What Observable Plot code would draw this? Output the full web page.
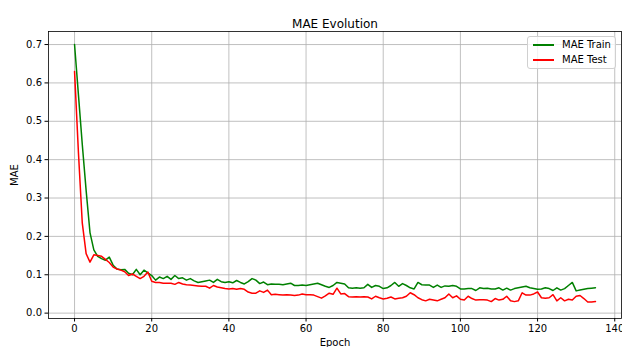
<!DOCTYPE html>
<html><head><meta charset="utf-8">
<script src="https://cdn.jsdelivr.net/npm/d3@7"></script>
<script src="https://cdn.jsdelivr.net/npm/@observablehq/plot@0.6"></script>
<style>
body{margin:0;background:#fff;}
#wrap{position:relative;width:622px;height:347px;font-family:"DejaVu Sans",sans-serif;overflow:hidden;}
#legend{position:absolute;left:527px;top:36px;width:89px;height:33px;border:1px solid #d0d0d0;border-radius:3px;background:rgba(255,255,255,0.8);font-size:10px;color:#000;box-sizing:border-box;}
.row{position:absolute;left:0;height:12px;line-height:12px;}
.sw{position:absolute;left:5px;top:5px;width:21px;height:2px;}
.lb{position:absolute;left:34px;top:0;white-space:nowrap;}
</style>
</head><body>
<div id="wrap"><div id="legend"></div></div>
<script>
const epochs = d3.range(136);
const maeTrain = [
0.700,0.570,0.440,0.320,0.210,0.165,0.148,0.142,0.138,0.146,
0.125,0.115,0.113,0.114,0.104,0.100,0.114,0.100,0.112,0.105,
0.098,0.086,0.094,0.090,0.096,0.088,0.098,0.090,0.092,0.086,
0.090,0.084,0.080,0.082,0.084,0.086,0.080,0.088,0.082,0.080,
0.082,0.079,0.085,0.080,0.076,0.082,0.090,0.086,0.077,0.081,
0.074,0.076,0.075,0.075,0.074,0.076,0.078,0.072,0.072,0.073,
0.072,0.074,0.076,0.078,0.074,0.070,0.067,0.072,0.080,0.078,
0.076,0.066,0.065,0.066,0.065,0.066,0.075,0.067,0.072,0.070,
0.064,0.066,0.072,0.080,0.070,0.077,0.072,0.066,0.063,0.080,
0.074,0.073,0.073,0.067,0.073,0.067,0.071,0.070,0.072,0.070,
0.063,0.063,0.064,0.064,0.059,0.066,0.064,0.065,0.063,0.063,
0.066,0.060,0.065,0.060,0.064,0.066,0.068,0.070,0.066,0.064,
0.062,0.063,0.066,0.064,0.059,0.066,0.060,0.064,0.072,0.080,
0.058,0.060,0.062,0.064,0.065,0.066];
const maeTest = [
0.630,0.420,0.235,0.155,0.133,0.152,0.150,0.148,0.140,0.132,
0.120,0.115,0.112,0.108,0.098,0.102,0.096,0.090,0.096,0.107,
0.083,0.080,0.080,0.078,0.078,0.078,0.075,0.080,0.076,0.074,
0.073,0.072,0.071,0.070,0.070,0.065,0.072,0.068,0.066,0.064,
0.063,0.064,0.062,0.064,0.062,0.055,0.052,0.052,0.058,0.054,
0.060,0.048,0.049,0.048,0.047,0.048,0.047,0.046,0.047,0.050,
0.048,0.048,0.047,0.043,0.039,0.045,0.052,0.049,0.065,0.050,
0.051,0.043,0.042,0.043,0.042,0.043,0.042,0.037,0.044,0.040,
0.037,0.039,0.042,0.037,0.039,0.040,0.044,0.053,0.048,0.040,
0.035,0.032,0.036,0.034,0.032,0.036,0.040,0.050,0.040,0.045,
0.036,0.034,0.044,0.038,0.034,0.035,0.035,0.034,0.030,0.038,
0.034,0.036,0.044,0.032,0.030,0.032,0.053,0.047,0.047,0.050,
0.055,0.040,0.039,0.040,0.048,0.032,0.040,0.032,0.036,0.034,
0.044,0.046,0.038,0.029,0.029,0.030];
const xTicks = [0,20,40,60,80,100,120,140];
const yTicks = [0,0.1,0.2,0.3,0.4,0.5,0.6,0.7];
const seriesNames = ["MAE Train","MAE Test"];
const seriesColors = ["green","red"];
const title = "MAE Evolution";

const rows = epochs.map((e,i)=>({epoch:e, train:maeTrain[i], test:maeTest[i]}));

const chart = Plot.plot({
  width:622, height:347,
  marginLeft:48, marginRight:1, marginTop:31, marginBottom:29,
  style:{fontFamily:"DejaVu Sans, sans-serif", fontSize:"10px", color:"#000", background:"#fff", overflow:"visible"},
  x:{domain:[-6.75,141.75]},
  y:{domain:[-0.014,0.734]},
  marks:[
    Plot.gridX(xTicks,{stroke:"#b0b0b0", strokeOpacity:1, strokeWidth:0.8}),
    Plot.gridY(yTicks,{stroke:"#b0b0b0", strokeOpacity:1, strokeWidth:0.8}),
    Plot.lineY(rows,{x:"epoch", y:"train", stroke:seriesColors[0], strokeWidth:1.5}),
    Plot.lineY(rows,{x:"epoch", y:"test", stroke:seriesColors[1], strokeWidth:1.5}),
    Plot.frame({stroke:"#000", strokeWidth:0.8}),
    Plot.axisX(xTicks,{tickSize:3.5, tickPadding:3, tickFormat:d3.format("d"), label:"Epoch", labelAnchor:"center", labelArrow:"none", labelOffset:27}),
    Plot.axisY(yTicks,{tickSize:3.5, tickPadding:3, tickFormat:d3.format(".1f"), label:"MAE", labelAnchor:"center", labelArrow:"none", labelOffset:38}),
    Plot.text([title],{frameAnchor:"top", dy:-12, fontSize:12})
  ]
});
const wrap = document.getElementById("wrap");
wrap.insertBefore(chart, wrap.firstChild);

const leg = document.getElementById("legend");
seriesNames.forEach((n,i)=>{
  const r = document.createElement("div");
  r.className="row"; r.style.top=(2+i*15)+"px"; r.style.width="100%";
  r.innerHTML = `<span class="sw" style="background:${seriesColors[i]}"></span><span class="lb">${n}</span>`;
  leg.appendChild(r);
});
</script>
</body></html>
